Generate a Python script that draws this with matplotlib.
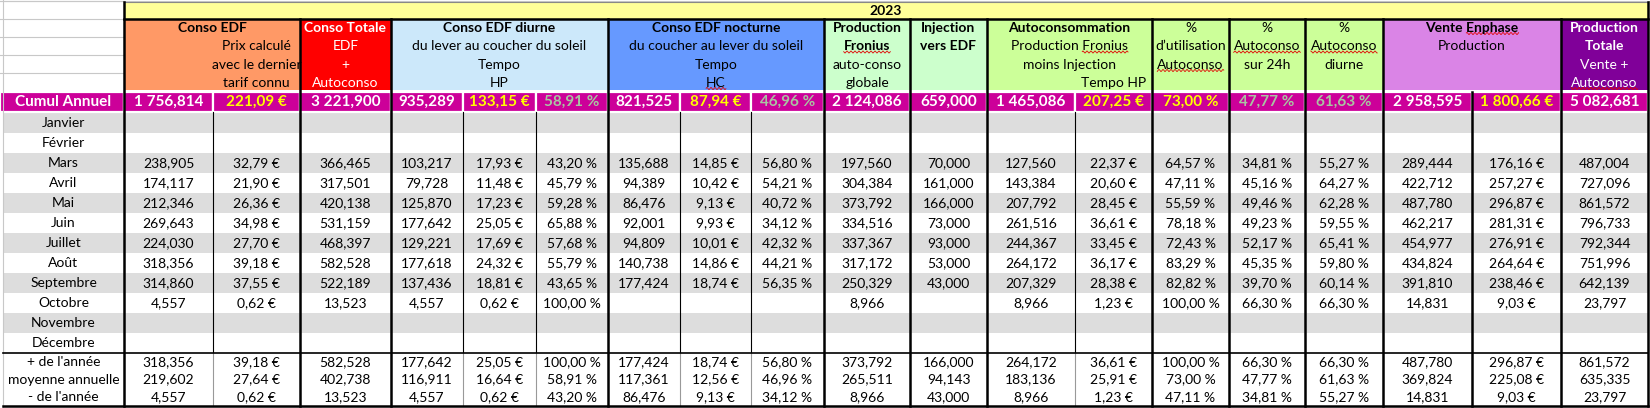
import numpy as np
import matplotlib.pyplot as plt
from matplotlib.patches import Rectangle

plt.rcParams['font.family'] = ['Lato', 'DejaVu Sans']

# ---- data ----
year = "2023"
months = ["Janvier", "Février", "Mars", "Avril", "Mai", "Juin", "Juillet",
          "Août", "Septembre", "Octobre", "Novembre", "Décembre"]
stat_labels = ["+ de l'année", "moyenne annuelle", "- de l'année"]

# monthly values, Janvier..Décembre (None = empty cell)
conso_edf = [None, None, 238.905, 174.117, 212.346, 269.643, 224.030, 318.356, 314.860, 4.557, None, None]
prix_edf = [None, None, 32.79, 21.90, 26.36, 34.98, 27.70, 39.18, 37.55, 0.62, None, None]
conso_totale = [None, None, 366.465, 317.501, 420.138, 531.159, 468.397, 582.528, 522.189, 13.523, None, None]
diurne_kwh = [None, None, 103.217, 79.728, 125.870, 177.642, 129.221, 177.618, 137.436, 4.557, None, None]
diurne_eur = [None, None, 17.93, 11.48, 17.23, 25.05, 17.69, 24.32, 18.81, 0.62, None, None]
diurne_pct = [None, None, 43.20, 45.79, 59.28, 65.88, 57.68, 55.79, 43.65, 100.00, None, None]
nocturne_kwh = [None, None, 135.688, 94.389, 86.476, 92.001, 94.809, 140.738, 177.424, None, None, None]
nocturne_eur = [None, None, 14.85, 10.42, 9.13, 9.93, 10.01, 14.86, 18.74, None, None, None]
nocturne_pct = [None, None, 56.80, 54.21, 40.72, 34.12, 42.32, 44.21, 56.35, None, None, None]
prod_fronius = [None, None, 197.560, 304.384, 373.792, 334.516, 337.367, 317.172, 250.329, 8.966, None, None]
injection = [None, None, 70.000, 161.000, 166.000, 73.000, 93.000, 53.000, 43.000, None, None, None]
autoconso_kwh = [None, None, 127.560, 143.384, 207.792, 261.516, 244.367, 264.172, 207.329, 8.966, None, None]
autoconso_eur = [None, None, 22.37, 20.60, 28.45, 36.61, 33.45, 36.17, 28.38, 1.23, None, None]
pct_utilisation = [None, None, 64.57, 47.11, 55.59, 78.18, 72.43, 83.29, 82.82, 100.00, None, None]
pct_24h = [None, None, 34.81, 45.16, 49.46, 49.23, 52.17, 45.35, 39.70, 66.30, None, None]
pct_diurne = [None, None, 55.27, 64.27, 62.28, 59.55, 65.41, 59.80, 60.14, 66.30, None, None]
enphase_kwh = [None, None, 289.444, 422.712, 487.780, 462.217, 454.977, 434.824, 391.810, 14.831, None, None]
enphase_eur = [None, None, 176.16, 257.27, 296.87, 281.31, 276.91, 264.64, 238.46, 9.03, None, None]
prod_totale = [None, None, 487.004, 727.096, 861.572, 796.733, 792.344, 751.996, 642.139, 23.797, None, None]

columns = [conso_edf, prix_edf, conso_totale, diurne_kwh, diurne_eur, diurne_pct,
           nocturne_kwh, nocturne_eur, nocturne_pct, prod_fronius, injection,
           autoconso_kwh, autoconso_eur, pct_utilisation, pct_24h, pct_diurne,
           enphase_kwh, enphase_eur, prod_totale]
kinds = ['n', 'e', 'n', 'n', 'e', 'p', 'n', 'e', 'p', 'n', 'n', 'n', 'e', 'p', 'p', 'p', 'n', 'e', 'n']

cumul = [1756.814, 221.09, 3221.900, 935.289, 133.15, 58.91, 821.525, 87.94, 46.96,
         2124.086, 659.000, 1465.086, 207.25, 73.00, 47.77, 61.63, 2958.595, 1800.66, 5082.681]
stat_max = [318.356, 39.18, 582.528, 177.642, 25.05, 100.00, 177.424, 18.74, 56.80,
            373.792, 166.000, 264.172, 36.61, 100.00, 66.30, 66.30, 487.780, 296.87, 861.572]
stat_mean = [219.602, 27.64, 402.738, 116.911, 16.64, 58.91, 117.361, 12.56, 46.96,
             265.511, 94.143, 183.136, 25.91, 73.00, 47.77, 61.63, 369.824, 225.08, 635.335]
stat_min = [4.557, 0.62, 13.523, 4.557, 0.62, 43.20, 86.476, 9.13, 34.12,
            8.966, 43.000, 8.966, 1.23, 47.11, 34.81, 55.27, 14.831, 9.03, 23.797]


def fmt(v, kind):
    if v is None:
        return ""
    if kind == 'n':
        s = f"{v:,.3f}"
    elif kind == 'e':
        s = f"{v:,.2f}"
    else:
        s = f"{v:.2f}"
    s = s.replace(',', ' ').replace('.', ',')
    if kind == 'e':
        s += " €"
    elif kind == 'p':
        s += " %"
    return s


# ---- layout (pixels) ----
W, H = 1650, 408
edges = [124, 213, 300, 391, 463, 536, 608, 680, 751, 824, 910, 987,
         1075, 1152, 1229, 1305, 1383, 1472, 1561, 1648]
thin_edges = [213, 463, 536, 680, 751, 1075]
merged_head_edges = [1472]   # thick in the body, merged in the header
left = 3
yellow_top, yellow_bot = 2, 19
head_top, head_bot = 20, 90
cum_top, cum_bot = 91.5, 111.5
month_top, month_h = 113, 20
stat_top = month_top + 12 * month_h
stat_h = (406 - stat_top) / 3
line_y = [28, 46.5, 65, 83]

fig = plt.figure(figsize=(W / 100, H / 100), dpi=100)
ax = fig.add_axes([0, 0, 1, 1])
ax.set_xlim(0, W)
ax.set_ylim(H, 0)
ax.axis('off')

GRID = '#C8C8C8'
FS = 10

# spreadsheet grid around the label column
ax.plot([left, left], [0, H], color=GRID, lw=0.8)
for gy in [1, 19, 37, 55, 73]:
    ax.plot([0, edges[0]], [gy, gy], color=GRID, lw=0.8)
ax.plot([0, W], [0.8, 0.8], color=GRID, lw=0.8)

# month row stripes
for i in range(12):
    if i % 2 == 0:
        ax.add_patch(Rectangle((left, month_top + i * month_h), edges[-1] - left, month_h,
                               facecolor='#DDDDDD', edgecolor='none'))

# header blocks: (first col, last col, background, text colour, lines)
# line = (row, text, bold, sub-column or None, squiggle word or None)
blocks = [
    (0, 1, '#FF9966', 'black', [(0, 'Conso EDF', True, None, None),
                                (1, 'Prix calculé', False, 1, None),
                                (2, 'avec le dernier', False, 1, None),
                                (3, 'tarif connu', False, 1, None)]),
    (2, 2, '#FF0000', 'white', [(0, 'Conso Totale', True, None, None),
                                (1, 'EDF', False, None, None),
                                (2, '+', False, None, None),
                                (3, 'Autoconso', False, None, 'Autoconso')]),
    (3, 5, '#CCE8FA', 'black', [(0, 'Conso EDF diurne', True, None, None),
                                (1, 'du lever au coucher du soleil', False, None, None),
                                (2, 'Tempo', False, None, None),
                                (3, 'HP', False, None, None)]),
    (6, 8, '#6699FF', 'black', [(0, 'Conso EDF nocturne', True, None, None),
                                (1, 'du coucher au lever du soleil', False, None, None),
                                (2, 'Tempo', False, None, None),
                                (3, 'HC', False, None, 'HC')]),
    (9, 9, '#CCFFCC', 'black', [(0, 'Production', True, None, None),
                                (1, 'Fronius', True, None, 'Fronius'),
                                (2, 'auto-conso', False, None, None),
                                (3, 'globale', False, None, None)]),
    (10, 10, '#CCFFCC', 'black', [(0, 'Injection', True, None, None),
                                  (1, 'vers EDF', True, None, None)]),
    (11, 12, '#CCFF99', 'black', [(0, 'Autoconsommation', True, None, None),
                                  (1, 'Production Fronius', False, None, 'Fronius'),
                                  (2, 'moins Injection', False, None, None),
                                  (3, 'Tempo HP', False, 12, None)]),
    (13, 13, '#CCFF99', 'black', [(0, '%', False, None, None),
                                  (1, 'd’utilisation', False, None, None),
                                  (2, 'Autoconso', False, None, 'Autoconso')]),
    (14, 14, '#CCFF99', 'black', [(0, '%', False, None, None),
                                  (1, 'Autoconso', False, None, 'Autoconso'),
                                  (2, 'sur 24h', False, None, None)]),
    (15, 15, '#CCFF99', 'black', [(0, '%', False, None, None),
                                  (1, 'Autoconso', False, None, 'Autoconso'),
                                  (2, 'diurne', False, None, None)]),
    (16, 17, '#DA84E6', 'black', [(0, 'Vente Enphase', True, None, 'Enphase'),
                                  (1, 'Production', False, None, None)]),
    (18, 18, '#800099', 'white', [(0, 'Production', True, None, None),
                                  (1, 'Totale', True, None, None),
                                  (2, 'Vente +', False, None, None),
                                  (3, 'Autoconso', False, None, 'Autoconso')]),
]

squiggles = []
for c0, c1, bg, tc, lines in blocks:
    x0, x1 = edges[c0], edges[c1 + 1]
    ax.add_patch(Rectangle((x0, head_top), x1 - x0, head_bot - head_top,
                           facecolor=bg, edgecolor='none'))
    for row, txt, bold, sub, sq in lines:
        if sub is None:
            cx = (x0 + x1) / 2
        else:
            cx = (edges[sub] + edges[sub + 1]) / 2
        t = ax.text(cx, line_y[row], txt, ha='center', va='center', fontsize=FS,
                    color=tc, fontweight='bold' if bold else 'normal')
        if sq:
            squiggles.append((t, sq))

# yellow year row (one merged cell)
ax.add_patch(Rectangle((edges[0], yellow_top), edges[-1] - edges[0], yellow_bot - yellow_top,
                       facecolor='#FFFF99', edgecolor='none'))
ax.text((edges[0] + edges[-1]) / 2, (yellow_top + yellow_bot) / 2 + 0.5, year,
        ha='center', va='center', fontsize=FS, fontweight='bold')

# thin sub-column lines
for x in thin_edges:
    ax.plot([x, x], [cum_bot, stat_top], color='black', lw=0.8)
    ax.plot([x, x], [stat_top, 406], color='#999999', lw=0.8)

# horizontal rules
ax.plot([edges[0], edges[-1]], [yellow_bot, yellow_bot], color='black', lw=1.8)
ax.plot([edges[0], edges[-1]], [yellow_top, yellow_top], color='#888888', lw=0.8)
ax.plot([left, edges[-1]], [stat_top, stat_top], color='black', lw=1.2)
ax.plot([left, edges[-1]], [406, 406], color='black', lw=1.8)

# thick block lines
for x in edges:
    if x in thin_edges:
        continue
    if x in (edges[0], edges[-1]):
        y0 = yellow_top
    elif x in merged_head_edges:
        y0 = cum_top
    else:
        y0 = yellow_bot
    ax.plot([x, x], [y0, 406], color='black', lw=1.8)

# cumul row
PINK = '#CC0099'
ax.add_patch(Rectangle((0, cum_top), edges[0] - 0, cum_bot - cum_top,
                       facecolor=PINK, edgecolor='white', lw=1.6))
ax.text((left + edges[0]) / 2, (cum_top + cum_bot) / 2, 'Cumul Annuel', ha='center',
        va='center', fontsize=11, fontweight='bold', color='white')
cum_colors = {'n': 'white', 'e': '#FFFF00', 'p': '#A9C4A2'}
for j, v in enumerate(cumul):
    x0, x1 = edges[j], edges[j + 1]
    ax.add_patch(Rectangle((x0, cum_top), x1 - x0, cum_bot - cum_top,
                           facecolor=PINK, edgecolor='white', lw=1.6))
    col = cum_colors[kinds[j]]
    if j == 13:
        col = '#FFFF00'
    ax.text((x0 + x1) / 2, (cum_top + cum_bot) / 2, fmt(v, kinds[j]), ha='center',
            va='center', fontsize=11, fontweight='bold', color=col)

# month rows
for i, m in enumerate(months):
    cy = month_top + i * month_h + month_h / 2
    ax.text((left + edges[0]) / 2, cy, m, ha='center', va='center', fontsize=FS)
    for j, col in enumerate(columns):
        s = fmt(col[i], kinds[j])
        if s:
            ax.text((edges[j] + edges[j + 1]) / 2, cy, s, ha='center', va='center', fontsize=FS)

# stats rows
for k, (lab, vals) in enumerate(zip(stat_labels, [stat_max, stat_mean, stat_min])):
    cy = stat_top + k * stat_h + stat_h / 2
    ax.text((left + edges[0]) / 2, cy, lab, ha='center', va='center', fontsize=FS)
    for j, v in enumerate(vals):
        ax.text((edges[j] + edges[j + 1]) / 2, cy, fmt(v, kinds[j]), ha='center',
                va='center', fontsize=FS)

# spell-check squiggles under some header words
r = fig.canvas.get_renderer()
for t, word in squiggles:
    bb = t.get_window_extent(r)
    tmp = ax.text(0, 0, word, fontsize=t.get_fontsize(), fontweight=t.get_fontweight())
    ww = tmp.get_window_extent(r).width
    tmp.remove()
    xa, xb = bb.x1 - ww, bb.x1
    yb = H - bb.y0 - 0.5
    xs = np.linspace(xa, xb, int((xb - xa) * 2) + 2)
    ax.plot(xs, yb + 1.0 * np.sin(xs * np.pi / 2), color='#E00000', lw=0.6)

fig.savefig('out.png', dpi=100)
